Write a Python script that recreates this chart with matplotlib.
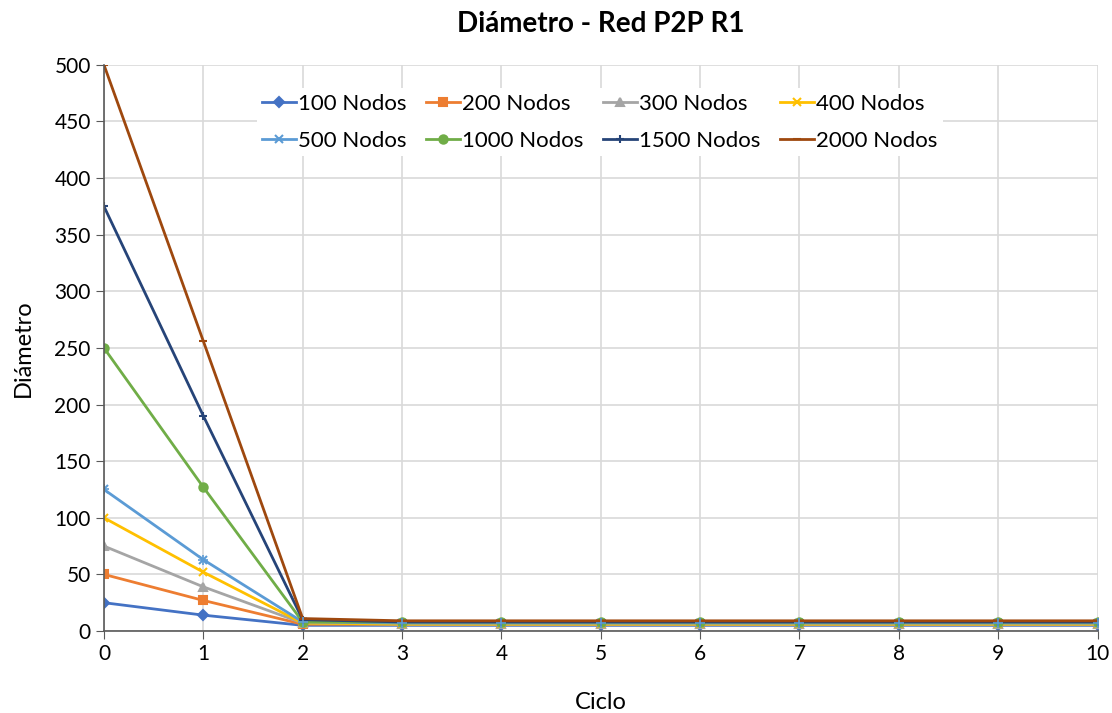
import matplotlib.pyplot as plt

plt.rcParams['font.family'] = ['Lato', 'DejaVu Sans']

ciclos = [0, 1, 2, 3, 4, 5, 6, 7, 8, 9, 10]
labels = ['100 Nodos', '200 Nodos', '300 Nodos', '400 Nodos',
          '500 Nodos', '1000 Nodos', '1500 Nodos', '2000 Nodos']
d100 = [25, 14, 5, 5, 5, 5, 5, 5, 5, 5, 5]
d200 = [50, 27, 6, 6, 6, 6, 6, 6, 6, 6, 6]
d300 = [75, 39, 7, 6, 6, 6, 6, 6, 6, 6, 6]
d400 = [100, 52, 7, 6, 6, 6, 6, 6, 6, 6, 6]
d500 = [125, 63, 8, 7, 7, 7, 7, 7, 7, 7, 7]
d1000 = [250, 127, 8, 8, 8, 8, 8, 8, 8, 8, 8]
d1500 = [375, 190, 10, 8, 8, 8, 8, 8, 8, 8, 8]
d2000 = [500, 256, 11, 9, 9, 9, 9, 9, 9, 9, 9]
series = [d100, d200, d300, d400, d500, d1000, d1500, d2000]

colors = ['#4472C4', '#ED7D31', '#A5A5A5', '#FFC000',
          '#5B9BD5', '#70AD47', '#264478', '#9E480E']
markers = ['D', 's', '^', 'x', 'x', 'o', '+', '_']

fig = plt.figure(figsize=(11.12, 7.13), dpi=100)
ax = fig.add_axes([0.0935, 0.115, 0.8935, 0.794])

handles = []
for s, lab, c, m in zip(series, labels, colors, markers):
    ms = 6
    if m == 'D':
        ms = 5
    h, = ax.plot(ciclos, s, color=c, marker=m, markersize=ms, linewidth=2,
                 markeredgewidth=1.5, label=lab)
    handles.append(h)
# asterisk for 500 Nodos: add + over x
ax.plot(ciclos, d500, color=colors[4], marker='+', markersize=7,
        linestyle='none', markeredgewidth=1.2)

ax.set_xlim(0, 10)
ax.set_ylim(0, 500)
ax.set_xticks(ciclos)
ax.set_yticks(range(0, 501, 50))
ax.grid(True, color='#D9D9D9', linewidth=1.2)
ax.set_axisbelow(True)
for sp in ['top', 'right']:
    ax.spines[sp].set_visible(False)
for sp in ['left', 'bottom']:
    ax.spines[sp].set_color('#595959')
    ax.spines[sp].set_linewidth(1.2)
ax.tick_params(axis='both', labelsize=15, length=6, color='#595959', direction='out')

ax.set_title('Diámetro - Red P2P R1', fontsize=20, fontweight='bold', pad=24)
ax.set_xlabel('Ciclo', fontsize=17, labelpad=20)
ax.set_ylabel('Diámetro', fontsize=17, labelpad=15)

# legend filled row by row
order = [0, 4, 1, 5, 2, 6, 3, 7]
leg = ax.legend([handles[i] for i in order], [labels[i] for i in order],
                ncol=4, loc='upper center', bbox_to_anchor=(0.499, 0.978),
                fontsize=16, frameon=True, edgecolor='none', facecolor='white',
                framealpha=1, handlelength=1.5, handletextpad=0.1,
                columnspacing=0.9, borderpad=0.25, labelspacing=0.75)
leg.get_frame().set_linewidth(0)

plt.savefig('out.png', dpi=100)
